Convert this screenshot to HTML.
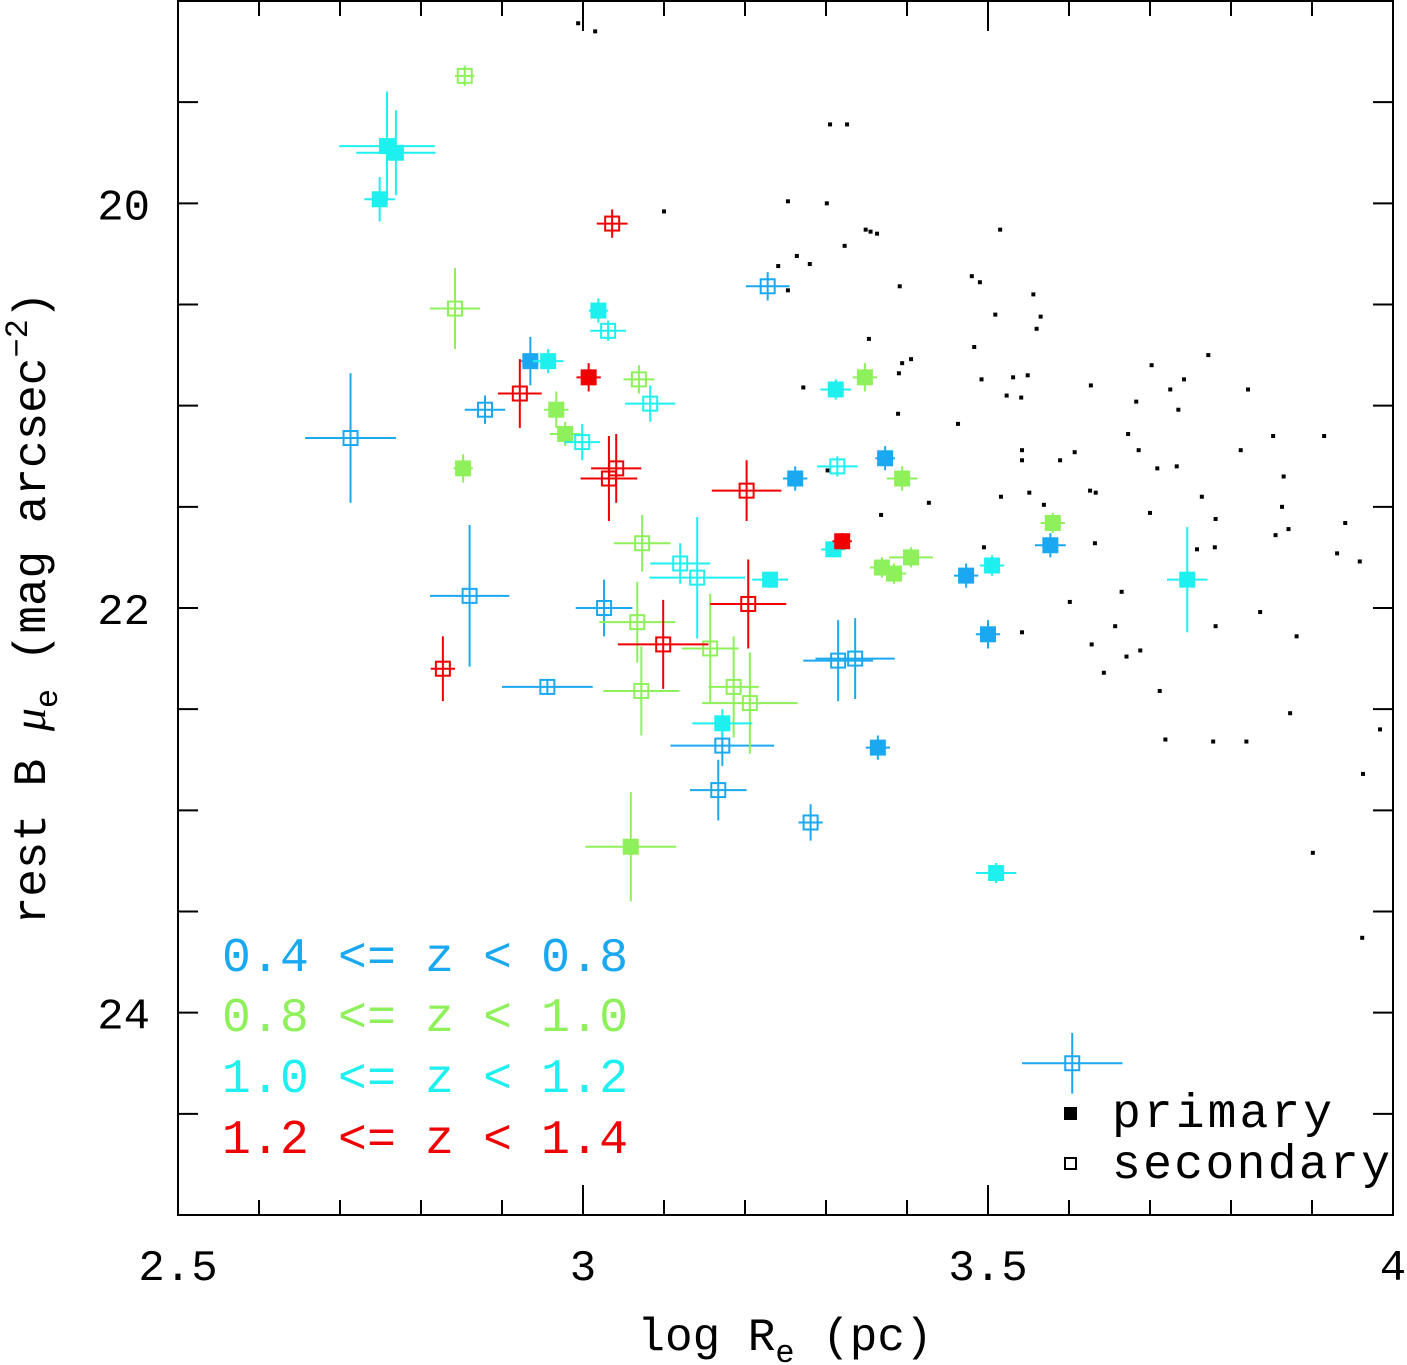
<!DOCTYPE html>
<html><head><meta charset="utf-8"><style>
html,body{margin:0;padding:0;background:#fff;}
svg{display:block;}
text{font-family:"Liberation Mono","DejaVu Sans Mono",monospace;}
</style></head><body>
<svg id="chart" xmlns="http://www.w3.org/2000/svg" width="1407" height="1365" viewBox="0 0 1407 1365">
<rect x="178" y="1" width="1215" height="1214" fill="none" stroke="#000" stroke-width="2"/>
<g id="ticks"></g>
<g id="dots"></g>
<g id="series"></g>
<text x="785" y="1350" font-size="46" text-anchor="middle">log R<tspan font-size="32" dy="12">e</tspan><tspan dy="-12"> (pc)</tspan></text>
<text transform="translate(45,608) rotate(-90)" font-size="46" text-anchor="middle">rest B <tspan font-family="Liberation Serif" font-style="italic">μ</tspan><tspan font-size="32" dy="12">e</tspan><tspan dy="-12"> (mag arcsec</tspan><tspan font-size="32" dy="-18">−2</tspan><tspan dy="18">)</tspan></text>
<g>
<text x="222" y="971" font-size="48" fill="#1aa8f0" textLength="406">0.4 &lt;= z &lt; 0.8</text>
<text x="222" y="1031" font-size="48" fill="#8ef05a" textLength="406">0.8 &lt;= z &lt; 1.0</text>
<text x="222" y="1092" font-size="48" fill="#1ef0f0" textLength="406">1.0 &lt;= z &lt; 1.2</text>
<text x="222" y="1153" font-size="48" fill="#f00000" textLength="406">1.2 &lt;= z &lt; 1.4</text>
</g>
<g>
<rect x="1064" y="1107" width="13" height="13" fill="#000"/>
<text x="1112" y="1127" font-size="48" textLength="220">primary</text>
<rect x="1065" y="1158" width="11" height="11" fill="none" stroke="#000" stroke-width="2"/>
<text x="1112" y="1178" font-size="48" textLength="278">secondary</text>
</g>
</svg>
<script>
// axes
const xMin=2.5,xMax=4.0,yMin=19.0,yMax=25.0;
const xTickLabels=["2.5","3","3.5","4"];
const xTickValues=[2.5,3.0,3.5,4.0];
const yTickLabels=["20","22","24"];
const yTickValues=[20,22,24];
// comparison sample (black dots): x, y
const dotX=[2.994,3.015,3.305,3.326,3.100,3.253,3.301,3.349,3.355,3.363,3.323,3.515,3.264,3.280,3.241,3.253,3.480,3.490,3.391,3.556,3.509,3.565,3.560,3.353,3.483,3.405,3.394,3.702,3.772,3.492,3.531,3.549,3.272,3.390,3.627,3.725,3.742,3.821,3.523,3.541,3.683,3.735,3.389,3.463,3.673,3.852,3.915,3.686,3.812,3.542,3.607,3.589,3.542,3.733,3.709,3.865,3.302,3.626,3.633,3.551,3.516,3.764,3.863,3.427,3.569,3.700,3.781,3.368,3.871,3.855,3.941,3.632,3.780,3.758,3.931,3.959,3.495,3.665,3.601,3.836,3.781,3.657,3.542,3.881,3.628,3.688,3.671,3.643,3.712,3.873,3.984,3.719,3.778,3.819,3.963,3.901,3.962];
const dotY=[19.11,19.15,19.61,19.61,20.04,19.99,20.00,20.13,20.14,20.15,20.21,20.13,20.26,20.30,20.31,20.43,20.36,20.39,20.41,20.45,20.55,20.56,20.62,20.67,20.71,20.77,20.79,20.80,20.75,20.87,20.86,20.85,20.91,20.84,20.90,20.92,20.87,20.92,20.95,20.96,20.98,21.02,21.04,21.09,21.14,21.15,21.15,21.22,21.22,21.22,21.23,21.27,21.27,21.30,21.31,21.35,21.32,21.42,21.43,21.43,21.45,21.45,21.50,21.48,21.49,21.53,21.56,21.54,21.61,21.64,21.58,21.68,21.70,21.71,21.73,21.77,21.70,21.92,21.97,22.02,22.09,22.09,22.12,22.14,22.18,22.21,22.24,22.32,22.41,22.52,22.60,22.65,22.66,22.66,22.82,23.21,23.63];
// series: 0.4<=z<0.8 (blue)
const blueX=[3.228,2.935,2.879,2.713,3.262,3.373,2.860,3.026,3.577,3.473,3.500,3.315,3.336,2.956,3.172,3.364,3.167,3.281,3.604];
const blueY=[20.41,20.78,21.02,21.16,21.36,21.26,21.94,22.00,21.69,21.84,22.13,22.26,22.25,22.39,22.68,22.69,22.90,23.06,24.25];
const blueXErr=[0.027,0.012,0.025,0.056,0.015,0.012,0.049,0.035,0.019,0.015,0.015,0.043,0.049,0.056,0.064,0.015,0.035,0.015,0.062];
const blueYErr=[0.07,0.12,0.07,0.32,0.06,0.06,0.35,0.14,0.06,0.06,0.07,0.2,0.2,0.04,0.1,0.06,0.15,0.09,0.15];
const bluePrimary=[0,1,0,0,1,1,0,0,1,1,1,0,0,0,0,1,0,0,0];
// 0.8<=z<1.0 (green)
const greenX=[2.854,2.842,3.069,2.967,2.978,2.852,3.348,3.394,3.073,3.580,3.405,3.369,3.384,3.067,3.157,3.072,3.186,3.206,3.059];
const greenY=[19.37,20.52,20.87,21.02,21.14,21.31,20.86,21.36,21.68,21.58,21.75,21.80,21.83,22.07,22.20,22.41,22.39,22.47,23.18];
const greenXErr=[0.012,0.031,0.019,0.015,0.019,0.012,0.015,0.019,0.035,0.015,0.027,0.015,0.015,0.047,0.035,0.047,0.031,0.059,0.056];
const greenYErr=[0.05,0.2,0.07,0.09,0.06,0.07,0.07,0.06,0.14,0.05,0.05,0.05,0.05,0.2,0.27,0.22,0.25,0.25,0.27];
const greenPrimary=[0,0,0,1,1,1,1,1,0,1,1,1,1,0,0,0,0,0,1];
// 1.0<=z<1.2 (cyan)
const cyanX=[2.758,2.769,2.749,3.019,3.031,2.957,3.083,2.999,3.312,3.314,3.309,3.120,3.141,3.231,3.505,3.746,3.172,3.510];
const cyanY=[19.717,19.75,19.98,20.53,20.63,20.78,20.99,21.18,20.92,21.30,21.71,21.78,21.85,21.86,21.79,21.86,22.57,23.31];
const cyanXErr=[0.059,0.049,0.019,0.012,0.022,0.019,0.031,0.022,0.019,0.025,0.015,0.037,0.059,0.022,0.015,0.025,0.037,0.025];
const cyanYErr=[0.27,0.21,0.11,0.06,0.05,0.06,0.09,0.09,0.05,0.05,0.04,0.1,0.3,0.04,0.05,0.26,0.07,0.05];
const cyanPrimary=[1,1,1,1,0,1,0,0,1,0,1,0,0,1,1,1,1,1];
// 1.2<=z<1.4 (red)
const redX=[3.036,3.007,2.922,3.041,3.032,3.202,3.320,3.204,3.099,2.827];
const redY=[20.10,20.86,20.94,21.31,21.36,21.42,21.67,21.98,22.18,22.30];
const redXErr=[0.019,0.015,0.027,0.031,0.035,0.043,0.012,0.047,0.056,0.015];
const redYErr=[0.07,0.07,0.17,0.17,0.21,0.15,0.04,0.22,0.22,0.16];
const redPrimary=[0,1,0,0,0,0,1,0,0,0];

const L=178,R=1393,T=1,B=1215;
const sx=v=>L+(v-xMin)/(xMax-xMin)*(R-L);
const sy=v=>T+(v-yMin)/(yMax-yMin)*(B-T);
const NS="http://www.w3.org/2000/svg";
function mk(tag,attrs,parent){const e=document.createElementNS(NS,tag);for(const k in attrs)e.setAttribute(k,attrs[k]);parent.appendChild(e);return e;}
const tg=document.getElementById('ticks');
for(let i=0;i<=15;i++){
  const v=xMin+i*0.1, x=sx(v), len=(i%5===0)?30:15;
  const t1=mk('line',{x1:x,x2:x,y1:B,y2:B-len,stroke:'#000','stroke-width':2},tg);
  
  
  const t2=mk('line',{x1:x,x2:x,y1:T,y2:T+len,stroke:'#000','stroke-width':2},tg);
  
  
}
for(let i=0;i<=12;i++){
  const v=yMin+i*0.5, y=sy(v), len=20;
  const t1=mk('line',{x1:L,x2:L+len,y1:y,y2:y,stroke:'#000','stroke-width':2},tg);
  
  
  const t2=mk('line',{x1:R,x2:R-len,y1:y,y2:y,stroke:'#000','stroke-width':2},tg);
  
  
}
xTickValues.forEach((v,i)=>{
  const t=mk('text',{x:sx(v),y:1280,'font-size':44,'text-anchor':'middle'},tg);
  t.textContent=xTickLabels[i];
  
  
});
yTickValues.forEach((v,i)=>{
  const t=mk('text',{x:150,y:sy(v)+16,'font-size':44,'text-anchor':'end'},tg);
  t.textContent=yTickLabels[i];
  
  
});
const dg=document.getElementById('dots');
dotX.forEach((v,i)=>{
  const r=mk('rect',{x:sx(v)-2,y:sy(dotY[i])-2,width:4,height:4,fill:'#000'},dg);
  
  
});
const sg=document.getElementById('series');
function drawSeries(name,color,X,Y,XE,YE,P){
  const g=mk('g',{},sg);
  
  
  X.forEach((v,i)=>{
    const cx=sx(v), cy=sy(Y[i]);
    const eb=mk('path',{d:`M${sx(v-XE[i])},${cy}H${sx(v+XE[i])}M${cx},${sy(Y[i]-YE[i])}V${sy(Y[i]+YE[i])}`,stroke:color,'stroke-width':2,fill:'none'},g);
    
    
    let m;
    if(P[i]) m=mk('rect',{x:cx-8,y:cy-8,width:16,height:16,fill:color},g);
    else m=mk('rect',{x:cx-7,y:cy-7,width:14,height:14,fill:'none',stroke:color,'stroke-width':2},g);
    
    
  });
}
drawSeries('z04-08','#1aa8f0',blueX,blueY,blueXErr,blueYErr,bluePrimary);
drawSeries('z08-10','#8ef05a',greenX,greenY,greenXErr,greenYErr,greenPrimary);
drawSeries('z10-12','#1ef0f0',cyanX,cyanY,cyanXErr,cyanYErr,cyanPrimary);
drawSeries('z12-14','#f00000',redX,redY,redXErr,redYErr,redPrimary);
</script>
</body></html>
